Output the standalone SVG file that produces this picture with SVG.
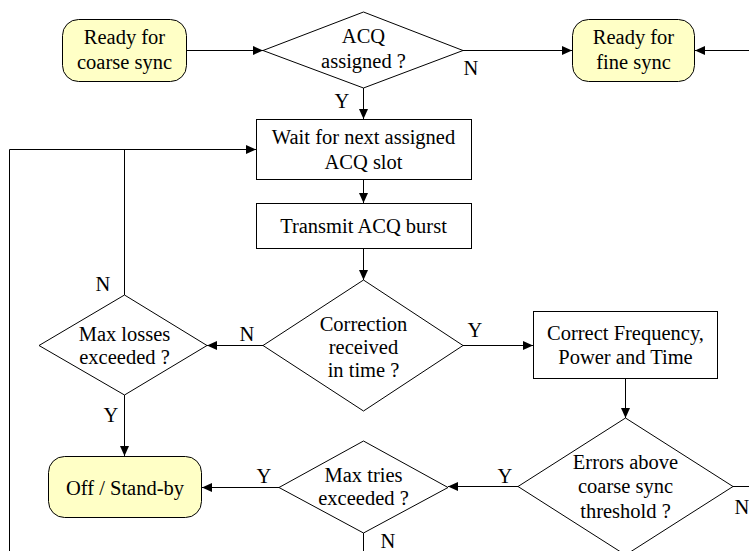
<svg xmlns="http://www.w3.org/2000/svg" width="749" height="551" viewBox="0 0 749 551" font-family="'Liberation Serif', serif">
<defs>
<marker id="ah" markerUnits="userSpaceOnUse" markerWidth="11" markerHeight="9" refX="10" refY="4.5" orient="auto">
<path d="M0,0 L10,4.5 L0,9 z" fill="#000"/>
</marker>
<style>
text{font-family:'Liberation Serif',serif;font-size:20.5px;fill:#000;text-anchor:middle}
.term{fill:#FFFFC6;stroke:#000;stroke-width:1}
.box{fill:#fff;stroke:#000;stroke-width:1}
.line{fill:none;stroke:#000;stroke-width:1}
.arr{fill:none;stroke:#000;stroke-width:1;marker-end:url(#ah)}
</style>
</defs>
<rect width="749" height="551" fill="#fff"/>
<g id="connectors">
<path class="arr" d="M187,50.5 H263"/>
<path class="arr" d="M463,50.5 H572"/>
<path class="arr" d="M749,50.5 H695"/>
<path class="arr" d="M363.5,88 V119"/>
<path class="arr" d="M9.5,551 V149.5 H256"/>
<path class="line" d="M124.5,149.5 V295"/>
<path class="arr" d="M363.5,180 V203"/>
<path class="arr" d="M363.5,248 V280"/>
<path class="arr" d="M263,345.5 H207"/>
<path class="arr" d="M463,345.5 H533"/>
<path class="arr" d="M124.5,395 V456"/>
<path class="arr" d="M625.5,379 V418"/>
<path class="arr" d="M518,486.5 H448"/>
<path class="arr" d="M279,487.5 H202"/>
<path class="line" d="M733,486.5 H749"/>
<path class="line" d="M363.5,533 V551"/>
<text x="342" y="108">Y</text>
<text x="471" y="75">N</text>
<text x="103" y="291">N</text>
<text x="247" y="341">N</text>
<text x="475" y="337">Y</text>
<text x="111" y="422">Y</text>
<text x="264" y="483">Y</text>
<text x="505" y="483">Y</text>
<text x="742" y="514">N</text>
<text x="388" y="548">N</text>
</g>
<g id="ready-coarse">
<rect class="term" x="62.5" y="19.5" width="124" height="62" rx="16"/>
<text x="124.5" y="44">Ready for</text>
<text x="124.5" y="69">coarse sync</text>
</g>
<g id="acq-assigned">
<polygon class="box" points="363.5,12 463,50.5 363.5,88 263,50.5"/>
<text x="363.5" y="43">ACQ</text>
<text x="363.5" y="68">assigned ?</text>
</g>
<g id="ready-fine">
<rect class="term" x="572.5" y="19.5" width="122" height="62" rx="16"/>
<text x="633.5" y="44">Ready for</text>
<text x="633.5" y="69">fine sync</text>
</g>
<g id="wait-slot">
<rect class="box" x="256.5" y="119.5" width="215" height="60"/>
<text x="363.5" y="144">Wait for next assigned</text>
<text x="363.5" y="169">ACQ slot</text>
</g>
<g id="transmit">
<rect class="box" x="256.5" y="203.5" width="215" height="45"/>
<text x="363.5" y="233">Transmit ACQ burst</text>
</g>
<g id="correction-received">
<polygon class="box" points="363.5,280 463,345.5 363.5,411 263,345.5"/>
<text x="363.5" y="331">Correction</text>
<text x="363.5" y="354">received</text>
<text x="363.5" y="377">in time ?</text>
</g>
<g id="max-losses">
<polygon class="box" points="124.5,295 207,345.5 124.5,395 39,345.5"/>
<text x="124.5" y="341">Max losses</text>
<text x="124.5" y="364">exceeded ?</text>
</g>
<g id="correct-fpt">
<rect class="box" x="533.5" y="311.5" width="184" height="67"/>
<text x="625.5" y="340">Correct Frequency,</text>
<text x="625.5" y="364">Power and Time</text>
</g>
<g id="off-standby">
<rect class="term" x="48.5" y="456.5" width="153" height="61" rx="16"/>
<text x="125" y="495">Off / Stand-by</text>
</g>
<g id="max-tries">
<polygon class="box" points="363.5,441 448,487.5 363.5,533 279,487.5"/>
<text x="363.5" y="482">Max tries</text>
<text x="363.5" y="505">exceeded ?</text>
</g>
<g id="errors-above">
<polygon class="box" points="625.5,418 733,486.5 625.5,555 518,486.5"/>
<text x="625.5" y="469">Errors above</text>
<text x="625.5" y="493">coarse sync</text>
<text x="625.5" y="518">threshold ?</text>
</g>
</svg>
